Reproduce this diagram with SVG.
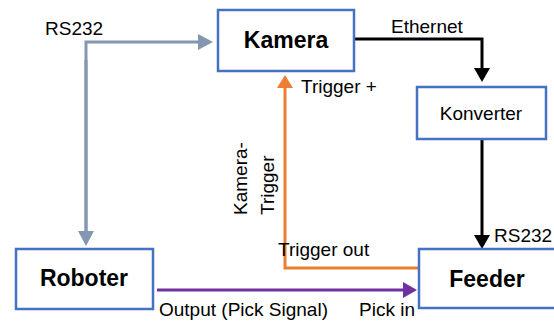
<svg xmlns="http://www.w3.org/2000/svg" width="554" height="323" viewBox="0 0 554 323">
<style>
.box{fill:#fff;stroke:#4472C4;stroke-width:2.5}
.bl{font-family:"Liberation Sans",Arial,sans-serif;font-size:23px;font-weight:bold;fill:#000}
.t{font-family:"Liberation Sans",Arial,sans-serif;font-size:19px;fill:#000}
.c{fill:none;stroke-width:3}
</style>
<defs>
<marker id="aG" markerUnits="userSpaceOnUse" viewBox="0 -8 15 16" refX="0" refY="0" markerWidth="15" markerHeight="16" orient="auto"><path d="M0,-8 L15,0 L0,8 z" fill="#8497B0"/></marker>
<marker id="aK" markerUnits="userSpaceOnUse" viewBox="0 -8 14 16" refX="0" refY="0" markerWidth="14" markerHeight="16" orient="auto"><path d="M0,-8 L14,0 L0,8 z" fill="#000"/></marker>
<marker id="aO" markerUnits="userSpaceOnUse" viewBox="0 -8 13 16" refX="0" refY="0" markerWidth="13" markerHeight="16" orient="auto"><path d="M0,-8 L13,0 L0,8 z" fill="#ED7D31"/></marker>
<marker id="aP" markerUnits="userSpaceOnUse" viewBox="0 -8 14 16" refX="0" refY="0" markerWidth="14" markerHeight="16" orient="auto"><path d="M0,-8 L14,0 L0,8 z" fill="#7030A0"/></marker>
</defs>
<rect width="554" height="323" fill="#fff"/>
<g id="connectors">
<path class="c" d="M86,231 V42 H198" stroke="#8497B0" marker-end="url(#aG)"/>
<path class="c" d="M86,60 V231" stroke="#8497B0" marker-end="url(#aG)"/>
<path class="c" d="M354,39 H482 V68" stroke="#000" marker-end="url(#aK)"/>
<path class="c" d="M482,139 V235" stroke="#000" marker-end="url(#aK)"/>
<path class="c" d="M419,268 H285 V88" stroke="#ED7D31" marker-end="url(#aO)"/>
<path class="c" d="M157,290 H403" stroke="#7030A0" marker-end="url(#aP)"/>
<text class="t" x="45" y="35">RS232</text>
<text class="t" x="391" y="33">Ethernet</text>
<text class="t" x="301" y="93">Trigger +</text>
<text class="t" x="278" y="256">Trigger out</text>
<text class="t" x="494" y="242">RS232</text>
<text class="t" x="159" y="316">Output (Pick Signal)</text>
<text class="t" x="359" y="316">Pick in</text>
<text class="t" transform="translate(247,215) rotate(-90)">Kamera-</text>
<text class="t" transform="translate(274,215) rotate(-90)">Trigger</text>
</g>
<g id="kamera"><rect class="box" x="218" y="10" width="136" height="61"/><text class="bl" x="286" y="48" text-anchor="middle">Kamera</text></g>
<g id="konverter"><rect class="box" x="417" y="87" width="129" height="52"/><text class="t" x="481" y="120" text-anchor="middle">Konverter</text></g>
<g id="roboter"><rect class="box" x="16" y="249" width="137" height="60"/><text class="bl" x="84" y="286" text-anchor="middle">Roboter</text></g>
<g id="feeder"><rect class="box" x="419" y="249" width="150" height="59"/><text class="bl" x="487" y="287" text-anchor="middle">Feeder</text></g>
</svg>
